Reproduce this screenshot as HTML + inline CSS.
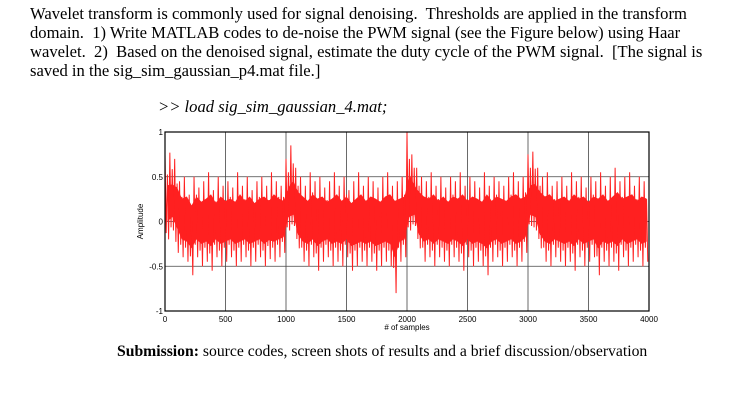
<!DOCTYPE html>
<html><head><meta charset="utf-8"><style>
body{margin:0;width:738px;height:404px;background:#fff;overflow:hidden;position:relative;font-family:"Liberation Serif",serif;color:#000}
.t{position:absolute;left:30px;font-size:16.6px;white-space:nowrap;line-height:19px}
svg{position:absolute;left:0;top:0}
</style></head><body>
<div class="t" style="top:4px">Wavelet transform is commonly used for signal denoising.&nbsp; Thresholds are applied in the transform</div>
<div class="t" style="top:23px">domain.&nbsp; 1) Write MATLAB codes to de-noise the PWM signal (see the Figure below) using Haar</div>
<div class="t" style="top:42px">wavelet.&nbsp; 2)&nbsp; Based on the denoised signal, estimate the duty cycle of the PWM signal.&nbsp; [The signal is</div>
<div class="t" style="top:61px">saved in the sig_sim_gaussian_p4.mat file.]</div>
<div class="t" style="top:97px;left:158px;font-style:italic">&gt;&gt; load sig_sim_gaussian_4.mat;</div>
<div class="t" style="top:342px;left:117px;font-size:15.7px"><b>Submission:</b> source codes, screen shots of results and a brief discussion/observation</div>
<svg id="chart" width="738" height="404"></svg>
<script>
const xTicks=[0,500,1000,1500,2000,2500,3000,3500,4000];
const yTicks=[-1,-0.5,0,0.5,1];
const binSize=40;
const hiVals=[0.75,0.77,0.7,0.45,0.5,0.3,0.5,0.38,0.45,0.55,0.35,0.5,0.4,0.45,0.38,0.55,0.4,0.5,0.35,0.45,0.5,0.4,0.55,0.45,0.4,
0.7,0.85,0.6,0.5,0.4,0.55,0.45,0.5,0.38,0.45,0.55,0.4,0.5,0.35,0.45,0.55,0.4,0.5,0.45,0.38,0.5,0.55,0.4,0.45,0.5,
1.0,0.75,0.6,0.5,0.45,0.55,0.4,0.5,0.38,0.5,0.45,0.55,0.4,0.5,0.45,0.38,0.55,0.4,0.5,0.45,0.4,0.5,0.55,0.45,0.5,
0.75,0.78,0.6,0.5,0.55,0.4,0.45,0.5,0.4,0.55,0.45,0.5,0.38,0.5,0.45,0.55,0.4,0.5,0.6,0.45,0.5,0.55,0.4,0.5,0.45];
const loVals=[-0.2,-0.1,-0.35,-0.4,-0.45,-0.6,-0.4,-0.5,-0.45,-0.55,-0.4,-0.5,-0.45,-0.4,-0.5,-0.45,-0.4,-0.5,-0.45,-0.4,-0.5,-0.42,-0.45,-0.4,-0.35,
-0.1,-0.05,-0.3,-0.45,-0.5,-0.4,-0.55,-0.45,-0.4,-0.5,-0.45,-0.5,-0.4,-0.55,-0.5,-0.45,-0.5,-0.45,-0.55,-0.5,-0.45,-0.5,-0.8,-0.45,-0.4,
-0.1,-0.05,-0.3,-0.45,-0.4,-0.5,-0.4,-0.45,-0.5,-0.4,-0.45,-0.55,-0.4,-0.5,-0.45,-0.5,-0.6,-0.45,-0.4,-0.5,-0.45,-0.4,-0.5,-0.45,-0.35,
-0.05,-0.1,-0.3,-0.45,-0.5,-0.4,-0.45,-0.5,-0.45,-0.55,-0.4,-0.5,-0.45,-0.4,-0.6,-0.45,-0.5,-0.45,-0.55,-0.4,-0.5,-0.45,-0.4,-0.5,-0.45];
const NS="http://www.w3.org/2000/svg";
const svg=document.getElementById('chart');
const X0=165,X1=649,Y0=132,Y1=311;
const sx=v=>X0+(v-0)/(4000-0)*(X1-X0);
const sy=v=>Y1-(v+1)/2*(Y1-Y0);
function mk(tag,at,parent){const e=document.createElementNS(NS,tag);for(const k in at)e.setAttribute(k,at[k]);(parent||svg).appendChild(e);return e;}
const plot=mk('rect',{x:X0,y:Y0,width:X1-X0,height:Y1-Y0,fill:'#fff'});


xTicks.forEach(t=>{const g=mk('line',{x1:sx(t),x2:sx(t),y1:Y0,y2:Y1,stroke:'#444','stroke-width':0.8});


const l=mk('text',{x:sx(t),y:Y1+11,'font-size':8,'text-anchor':'middle','font-family':'Liberation Sans, sans-serif'});l.textContent=t;

});
yTicks.forEach(t=>{const g=mk('line',{x1:X0,x2:X1,y1:sy(t),y2:sy(t),stroke:'#444','stroke-width':0.8});


const l=mk('text',{x:X0-2,y:sy(t)+3,'font-size':8,'text-anchor':'end','font-family':'Liberation Sans, sans-serif'});l.textContent=t;

});
let band=[],zig=[];
hiVals.forEach((h,i)=>{band.push(sx(i*binSize+binSize/2)+','+sy(h*0.5+0.03));});
for(let i=loVals.length-1;i>=0;i--)band.push(sx(i*binSize+binSize/2)+','+sy(loVals[i]*0.5+(hiVals[i]>0.65?0.1:0)));
hiVals.forEach((h,i)=>{const x=sx(i*binSize);zig.push(x+','+sy(h));zig.push((x+1.2)+','+sy(loVals[i]*0.65));zig.push((x+2.4)+','+sy((h+loVals[i])*0.5+0.25));zig.push((x+3.6)+','+sy(loVals[i]));});
const b=mk('polygon',{points:band.join(' '),fill:'#ff2020'});


const s=mk('polyline',{points:zig.join(' '),fill:'none',stroke:'#ff2020','stroke-width':1});


const fr=mk('rect',{x:X0,y:Y0,width:X1-X0,height:Y1-Y0,fill:'none',stroke:'#000','stroke-width':1.2});


const xt=mk('text',{x:(X0+X1)/2,y:Y1+19,'font-size':8,'text-anchor':'middle','font-family':'Liberation Sans, sans-serif'});xt.textContent='# of samples';


const yt=mk('text',{x:0,y:0,'font-size':8,'text-anchor':'middle','font-family':'Liberation Sans, sans-serif',transform:`translate(143,${(Y0+Y1)/2}) rotate(-90)`});yt.textContent='Amplitude';


</script>
</body></html>
